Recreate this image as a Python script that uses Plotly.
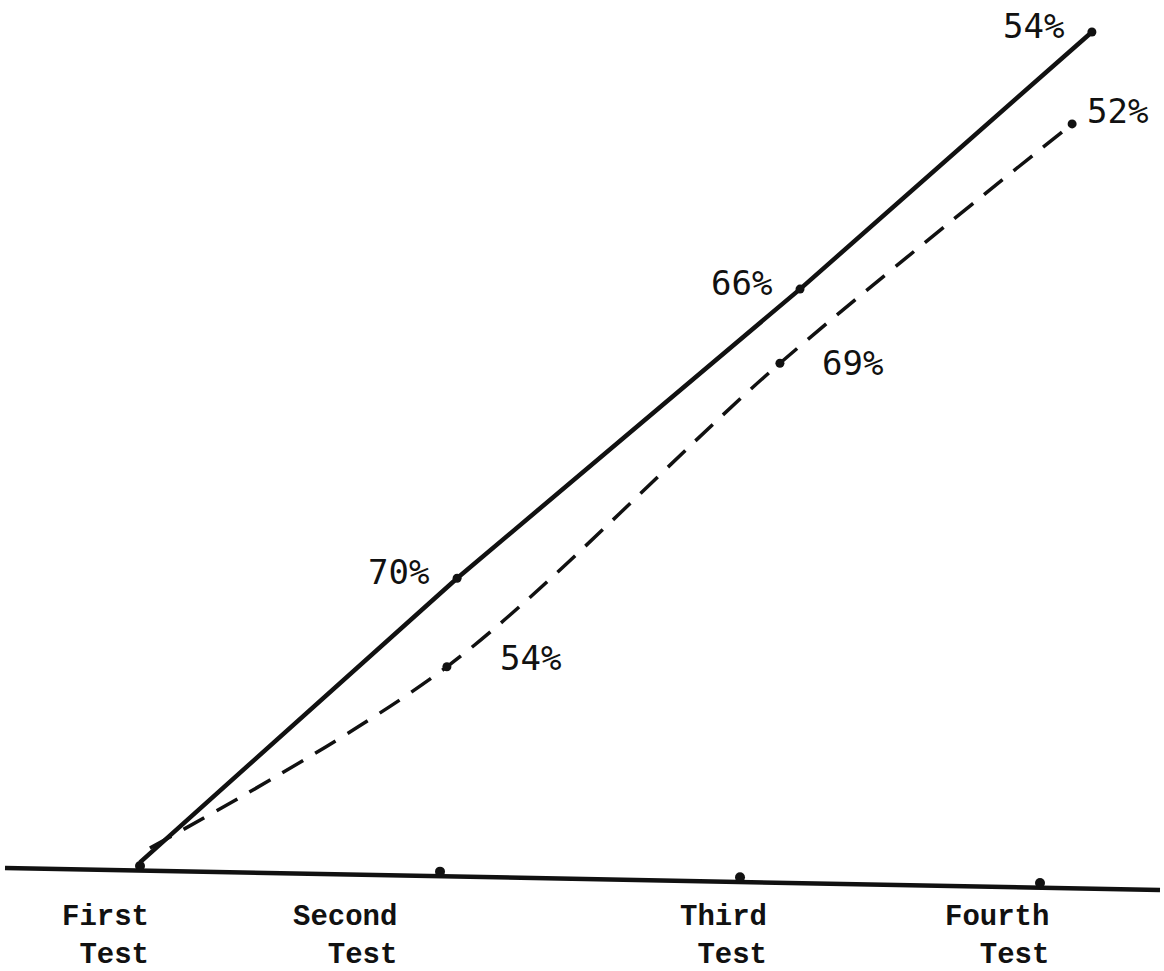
import plotly.graph_objects as go

# ---- data ----
test_names = ["First<br>Test", "Second<br>Test", "Third<br>Test", "Fourth<br>Test"]
test_pos = [0, 1, 2, 3]

solid_x = [0.0, 1.057, 2.2, 3.173]
solid_y = [1.5, 35.2, 69.5, 100.0]
solid_labels = ["", "70%", "66%", "54%"]

dashed_x = [0.033, 1.023, 2.133, 3.107]
dashed_y = [3.2, 24.7, 60.7, 89.1]
dashed_labels = ["", "54%", "69%", "52%"]

# baseline (slightly slanted in the scan)
base_x = [-0.45, 3.40]
base_y = [0.83, -1.78]

# ---- styling / layout helpers ----
INK = "#111111"
pct_font = dict(family="Liberation Sans Narrow, DejaVu Sans Mono, sans-serif", size=34, color=INK)
cat_font = dict(family="Liberation Mono, Courier New, monospace", size=29, color=INK)

def base_at(x):
    t = (x - base_x[0]) / (base_x[1] - base_x[0])
    return base_y[0] + t * (base_y[1] - base_y[0])

fig = go.Figure()

# baseline
fig.add_trace(go.Scatter(x=base_x, y=base_y, mode="lines",
                         line=dict(color=INK, width=4.5), hoverinfo="skip", showlegend=False))
# tick bumps on baseline
fig.add_trace(go.Scatter(x=test_pos, y=[base_at(p) + 0.55 for p in test_pos], mode="markers",
                         marker=dict(color=INK, size=10, symbol="circle"),
                         hoverinfo="skip", showlegend=False))

# solid line
fig.add_trace(go.Scatter(x=solid_x, y=solid_y, mode="lines",
                         line=dict(color=INK, width=4.5), showlegend=False))
fig.add_trace(go.Scatter(x=solid_x[1:], y=solid_y[1:], mode="markers",
                         marker=dict(color=INK, size=9), showlegend=False))

# dashed line
fig.add_trace(go.Scatter(x=dashed_x, y=dashed_y, mode="lines",
                         line=dict(color=INK, width=3.5, dash="24px,14px", shape="spline", smoothing=0.9),
                         showlegend=False))
fig.add_trace(go.Scatter(x=dashed_x[1:], y=dashed_y[1:], mode="markers",
                         marker=dict(color=INK, size=9), showlegend=False))

annotations = []
# solid labels (left of points)
for x, y, t in zip(solid_x, solid_y, solid_labels):
    if t:
        annotations.append(dict(x=x, y=y, text=t, showarrow=False, xanchor="right", yanchor="middle",
                                xshift=-26, yshift=6, font=pct_font))
# dashed labels (right of points)
dashed_shifts = [(0, 0), (51, 9), (40, 0), (13, 13)]
for (x, y, t), (dx, dy) in zip(zip(dashed_x, dashed_y, dashed_labels), dashed_shifts):
    if t:
        annotations.append(dict(x=x, y=y, text=t, showarrow=False, xanchor="left", yanchor="middle",
                                xshift=dx, yshift=dy, font=pct_font))
# category labels (typewritten, right aligned lines, on a common line below the axis)
cat_shifts = [11, -41, 29, 11]
cat_top = 1 - 899 / 971
for p, name, dx in zip(test_pos, test_names, cat_shifts):
    annotations.append(dict(x=p, y=cat_top, yref="paper",
                            text="<b>" + name.replace("<br>", "</b><br><b>") + "</b>",
                            showarrow=False, xanchor="right",
                            yanchor="top", align="right", xshift=dx,
                            font=cat_font))

fig.update_layout(
    width=1164, height=971,
    margin=dict(l=0, r=0, t=0, b=0),
    paper_bgcolor="white", plot_bgcolor="white",
    xaxis=dict(range=[-0.4667, 3.4133], visible=False, fixedrange=True),
    yaxis=dict(range=[-11.388, 103.796], visible=False, fixedrange=True),
    annotations=annotations,
    showlegend=False,
)

fig.write_html("out.html", config={"displayModeBar": False},
               post_script="document.body.style.margin='0';document.body.style.overflow='hidden';")
